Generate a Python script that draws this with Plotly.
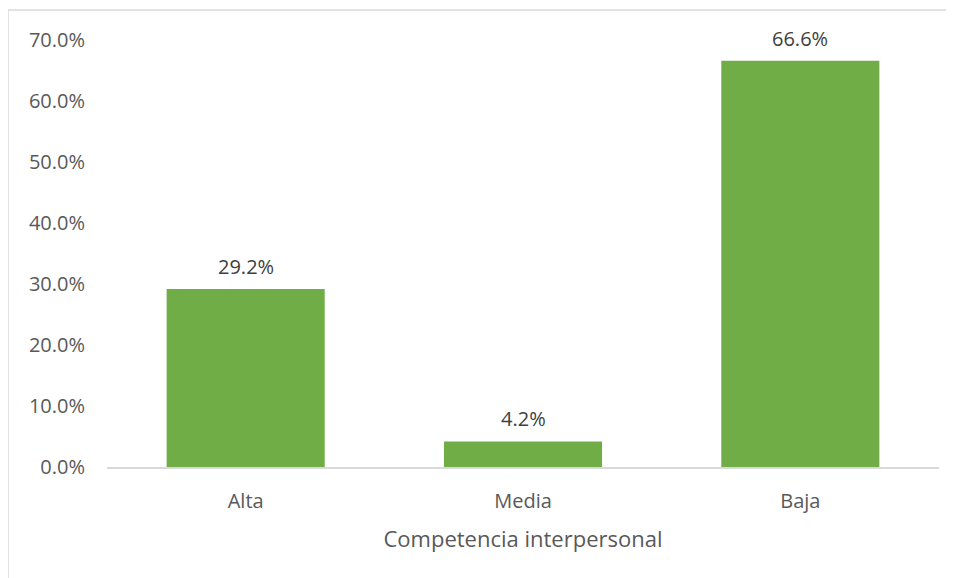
import plotly.graph_objects as go

categories = ["Alta", "Media", "Baja"]
values = [29.2, 4.2, 66.6]
labels = ["29.2%", "4.2%", "66.6%"]
y_ticks = [0, 10, 20, 30, 40, 50, 60, 70]
y_tick_text = ["0.0%", "10.0%", "20.0%", "30.0%", "40.0%", "50.0%", "60.0%", "70.0%"]

OFF = 8  # page body margin
W, H = 954 - OFF, 578 - OFF
L, T = 107 - OFF, 40 - OFF
pw, ph = 832, 427
R = W - L - pw
B = H - T - ph

fig = go.Figure(go.Bar(
    x=categories, y=values,
    marker=dict(color="#70AD47", line=dict(width=0)),
    width=0.57, cliponaxis=False,
))

for c, v, t in zip(categories, values, labels):
    fig.add_annotation(
        x=c, y=v, text=t, showarrow=False, yanchor="bottom", yshift=7,
        font=dict(size=20, color="#404040"),
    )

fig.update_layout(
    width=W, height=H,
    margin=dict(l=L, r=R, t=T, b=B),
    paper_bgcolor="white", plot_bgcolor="white",
    font=dict(family="Open Sans", color="#595959", size=20),
    showlegend=False,
    xaxis=dict(
        showline=True, linecolor="#D9D9D9", linewidth=1.5,
        showgrid=False, ticks="",
        tickfont=dict(size=20, color="#595959"),
        ticklabelstandoff=15,
        title=dict(text="Competencia interpersonal", font=dict(size=22, color="#595959"), standoff=19),
    ),
    yaxis=dict(
        range=[0, 70], tickvals=y_ticks, ticktext=y_tick_text,
        showgrid=False, zeroline=False, showline=False,
        tickfont=dict(size=20, color="#595959"),
        ticklabelstandoff=21,
    ),
    shapes=[dict(
        type="rect", xref="paper", yref="paper",
        x0=(8 - 107) / pw, x1=(953.5 - 107) / pw,
        y0=-(B + 20) / ph, y1=1 + (40 - 10) / ph,
        line=dict(color="#D9D9D9", width=1.5), fillcolor="rgba(0,0,0,0)", layer="below",
    )],
)

fig.write_html("out.html")
